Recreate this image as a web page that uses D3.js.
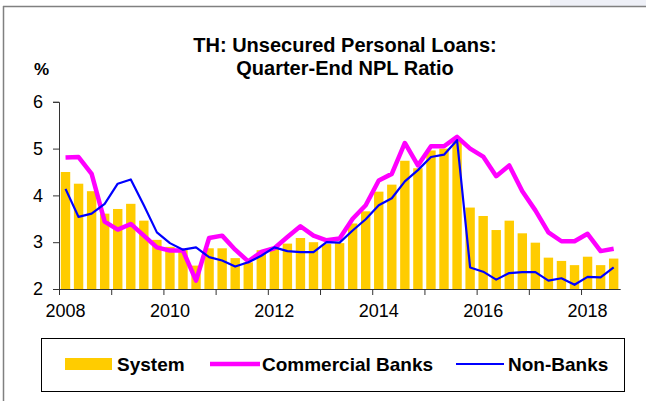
<!DOCTYPE html>
<html lang="en">
<head>
    <meta charset="UTF-8">
    <title>TH: Unsecured Personal Loans NPL Ratio</title>
    <script src="https://cdn.jsdelivr.net/npm/d3@7"></script>
    <style>
        body { margin: 0; background: #fff; }
        text { font-family: "Liberation Sans", Arial, sans-serif; fill: #000; }
    </style>
</head>
<body>
    <svg id="chart" width="646" height="401"></svg>

    <script>
        // quarters 2008Q1 .. 2018Q3
        const years = d3.range(2008, 2019);
        const quarters = [];
        years.forEach(yr => [1, 2, 3, 4].forEach(q => {
            if (yr < 2018 || q <= 3) quarters.push(yr + "Q" + q);
        }));
        const yTicks = [2, 3, 4, 5, 6];
        const yearLabels = [2008, 2010, 2012, 2014, 2016, 2018];

        const system = [4.50, 4.25, 4.09, 3.61, 3.71, 3.82, 3.46, 3.05, 2.90, 2.83, 2.50,
            2.87, 2.87, 2.66, 2.57, 2.83, 2.89, 2.97, 3.09, 3.00, 2.96, 2.98,
            3.40, 3.66, 4.08, 4.23, 4.74, 4.58, 4.96, 5.00, 5.20, 3.74, 3.56,
            3.26, 3.46, 3.19, 2.99, 2.67, 2.60, 2.51, 2.69, 2.51, 2.65];
        const commercial = [4.81, 4.82, 4.46, 3.44, 3.27, 3.39, 3.14, 2.89, 2.82, 2.82, 2.18,
            3.09, 3.14, 2.84, 2.59, 2.79, 2.87, 3.11, 3.34, 3.14, 3.04, 3.08,
            3.50, 3.79, 4.32, 4.46, 5.12, 4.64, 5.05, 5.05, 5.25, 5.00, 4.83,
            4.41, 4.64, 4.09, 3.68, 3.21, 3.02, 3.02, 3.18, 2.81, 2.86];
        const nonBanks = [4.14, 3.54, 3.61, 3.82, 4.25, 4.34, 3.79, 3.21, 2.98, 2.84, 2.89,
            2.68, 2.61, 2.48, 2.57, 2.71, 2.89, 2.81, 2.79, 2.79, 3.00, 2.99,
            3.25, 3.49, 3.79, 3.94, 4.30, 4.54, 4.82, 4.87, 5.18, 2.46, 2.37,
            2.20, 2.34, 2.36, 2.36, 2.18, 2.23, 2.09, 2.26, 2.25, 2.46];

        const svg = d3.select("#chart");

        // outer frame bits
        svg.append("rect").attr("x", 550).attr("y", 0).attr("width", 96).attr("height", 6)
            .attr("fill", "#eef0f7");
        svg.append("line").attr("x1", 3).attr("x2", 646).attr("y1", 6.5).attr("y2", 6.5)
            .attr("stroke", "#808080").attr("stroke-width", 1.5);
        svg.append("line").attr("x1", 3.5).attr("x2", 3.5).attr("y1", 6).attr("y2", 401)
            .attr("stroke", "#808080").attr("stroke-width", 1.5);

        const plotL = 59, plotR = 620.2, plotT = 101.8, plotB = 289;

        const x = d3.scaleBand()
            .domain(quarters)
            .range([plotL, plotR])
            .paddingInner(0.28)
            .paddingOuter(0.14);
        // same range without padding, for tick/line positions
        const xc = d3.scaleBand().domain(quarters).range([plotL, plotR]);
        const xYear = d3.scaleLinear().domain([2008, 2018.75]).range([plotL, plotR]);
        const y = d3.scaleLinear().domain([2, 6]).range([plotB, plotT]);

        // bars
        svg.append("g").selectAll("rect")
            .data(system)
            .join("rect")
            .attr("x", (d, i) => x(quarters[i]))
            .attr("y", d => y(d))
            .attr("width", x.bandwidth())
            .attr("height", d => y(2) - y(d))
            .attr("fill", "#FFCC00");

        const line = data => d3.line()
            .x((d, i) => xc(quarters[i]) + xc.bandwidth() / 2)
            .y(d => y(d))(data);

        svg.append("path")
            .attr("d", line(commercial))
            .attr("fill", "none")
            .attr("stroke", "#FF00FF")
            .attr("stroke-width", 4.5)
            .attr("stroke-linejoin", "round");

        svg.append("path")
            .attr("d", line(nonBanks))
            .attr("fill", "none")
            .attr("stroke", "#0000FF")
            .attr("stroke-width", 2.2)
            .attr("stroke-linejoin", "round");

        // y axis
        const yAxis = svg.append("g")
            .attr("transform", `translate(${plotL},0)`)
            .call(d3.axisLeft(y).tickValues(yTicks).tickSize(6).tickFormat(d3.format("d")));
        yAxis.select(".domain").attr("stroke", "#333");
        yAxis.selectAll(".tick line").attr("stroke", "#333");
        yAxis.selectAll(".tick text")
            .attr("x", -16)
            .style("font-size", "18px")
            .style("font-family", "Liberation Sans, Arial, sans-serif");

        // x axis
        const xAxis = svg.append("g")
            .attr("transform", `translate(0,${plotB})`)
            .call(d3.axisBottom(xYear).tickValues(years).tickSize(6).tickSizeOuter(0).tickFormat(""));
        xAxis.select(".domain").attr("stroke", "#333");
        xAxis.selectAll(".tick line").attr("stroke", "#333");

        svg.append("g").selectAll("text")
            .data(yearLabels)
            .join("text")
            .attr("x", d => xc(d + "Q1") + xc.bandwidth() / 2)
            .attr("y", 317)
            .attr("text-anchor", "middle")
            .style("font-size", "18px")
            .text(d => d);

        // titles
        svg.append("text")
            .attr("x", 345).attr("y", 52)
            .attr("text-anchor", "middle")
            .style("font-size", "20px").style("font-weight", "bold")
            .text("TH: Unsecured Personal Loans:");
        svg.append("text")
            .attr("x", 345).attr("y", 75)
            .attr("text-anchor", "middle")
            .style("font-size", "20px").style("font-weight", "bold")
            .text("Quarter-End NPL Ratio");
        svg.append("text")
            .attr("x", 34).attr("y", 75)
            .style("font-size", "17px").style("font-weight", "bold")
            .text("%");

        // legend
        const legend = svg.append("g");
        legend.append("rect")
            .attr("x", 41.5).attr("y", 338.5).attr("width", 583).attr("height", 53)
            .attr("fill", "#fff").attr("stroke", "#000");
        legend.append("rect")
            .attr("x", 65).attr("y", 358).attr("width", 47).attr("height", 12)
            .attr("fill", "#FFCC00");
        legend.append("line")
            .attr("x1", 210).attr("x2", 260).attr("y1", 364).attr("y2", 364)
            .attr("stroke", "#FF00FF").attr("stroke-width", 4.5);
        legend.append("line")
            .attr("x1", 456).attr("x2", 504).attr("y1", 364).attr("y2", 364)
            .attr("stroke", "#0000FF").attr("stroke-width", 2);
        const items = [["System", 117], ["Commercial Banks", 262], ["Non-Banks", 508]];
        legend.selectAll(".lt")
            .data(items)
            .join("text")
            .attr("class", "lt")
            .attr("x", d => d[1])
            .attr("y", 371)
            .style("font-size", "19px").style("font-weight", "bold")
            .text(d => d[0]);
    </script>
</body>
</html>
